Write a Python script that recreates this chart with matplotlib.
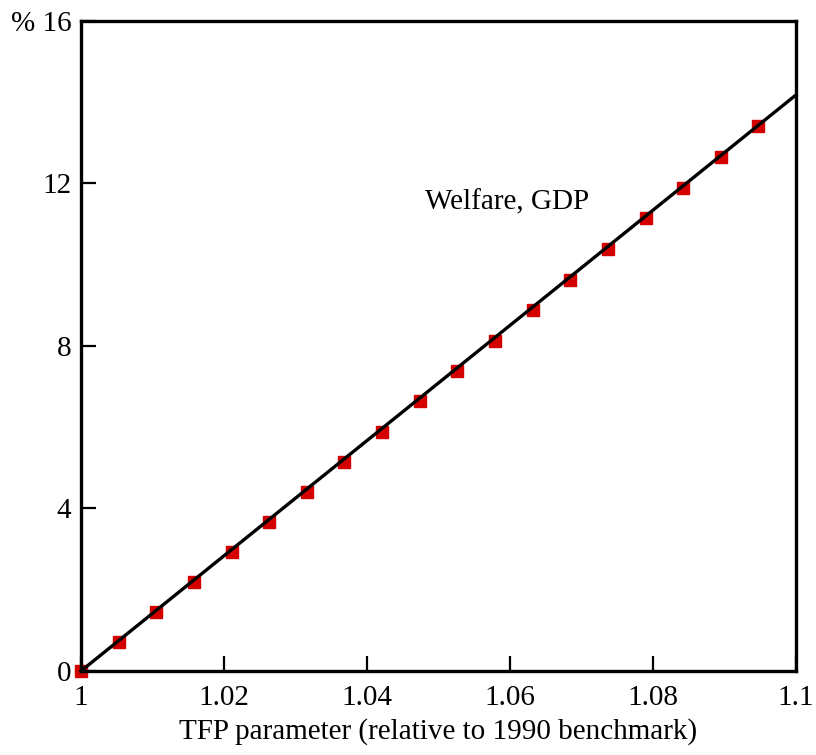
import numpy as np
import matplotlib
matplotlib.use("Agg")
from matplotlib import pyplot as plt

# datos
tfp = [1.0, 1.00526, 1.01053, 1.01579, 1.02105, 1.02632, 1.03158, 1.03684,
       1.04211, 1.04737, 1.05263, 1.05789, 1.06316, 1.06842, 1.07368,
       1.07895, 1.08421, 1.08947, 1.09474]
welfare = [0.0, 0.72, 1.45, 2.19, 2.93, 3.67, 4.41, 5.14, 5.88, 6.65, 7.38,
           8.12, 8.89, 9.62, 10.39, 11.15, 11.89, 12.65, 13.42]
line_x = [1.0, 1.1]
line_y = [0.0, 14.18]

x_ticks = [1.0, 1.02, 1.04, 1.06, 1.08, 1.1]
x_labels = ["1", "1.02", "1.04", "1.06", "1.08", "1.1"]
y_ticks = [0, 4, 8, 12, 16]
y_labels = ["0", "4", "8", "12", "% 16"]

plt.rcParams['font.family'] = ['Liberation Serif', 'DejaVu Serif']

fig = plt.figure(figsize=(8.16, 7.55), dpi=100)
ax = fig.add_axes([0.0993, 0.1113, 0.8762, 0.8609])

ax.plot(tfp, welfare, ls='none', marker='s', ms=8, color='#d40000',
        mec='#d40000', zorder=2, clip_on=False)
ax.plot(line_x, line_y, color='black', lw=2.4, zorder=3, clip_on=False)

ax.text(1.0481, 11.54, "Welfare, GDP", fontsize=21, va='center', ha='left')

ax.set_xlim(1.0, 1.1)
ax.set_ylim(0, 16)
ax.set_xticks(x_ticks)
ax.set_xticklabels(x_labels)
ax.set_yticks(y_ticks)
ax.set_yticklabels(y_labels)
ax.tick_params(direction='in', length=11, width=1.6, labelsize=21,
               top=False, right=False)
ax.tick_params(axis='x', pad=10)
ax.tick_params(axis='y', pad=7)
for s in ax.spines.values():
    s.set_linewidth(2.4)

ax.set_xlabel("TFP parameter (relative to 1990 benchmark)", fontsize=21,
              labelpad=5)

fig.savefig("out.png", dpi=100)
